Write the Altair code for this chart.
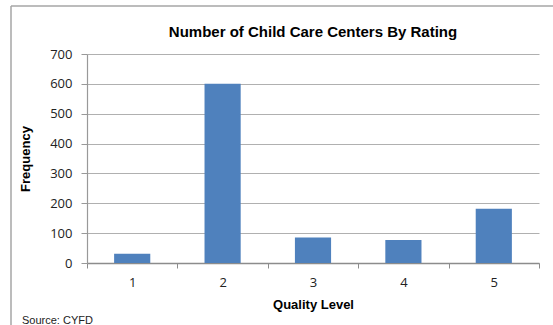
import altair as alt
import pandas as pd

# Ratings and the number of centers at each level
levels = ["1", "2", "3", "4", "5"]
counts = [31, 600, 85, 77, 182]
source_note = "Source: CYFD"

df = pd.DataFrame({"level": levels, "count": counts})

tick_font = "Open Sans"
title_font = "Liberation Sans"

bars = alt.Chart(df).mark_bar(
    color="#4f81bd", width=alt.RelativeBandSize(0.4)
).encode(
    x=alt.X(
        "level:N",
        sort=levels,
        scale=alt.Scale(paddingInner=0, paddingOuter=0),
        axis=alt.Axis(
            title="Quality Level",
            labelAngle=0,
            tickBand="extent",
            grid=False,
            domainColor="#8c8c8c",
            domainWidth=1.5,
            tickColor="#8c8c8c",
            tickSize=5,
            labelPadding=8,
            labelFont=tick_font,
            labelFontSize=13,
            labelColor="#222222",
            titleFont=title_font,
            titleFontSize=13,
            titleFontWeight="bold",
            titleColor="#000000",
            titlePadding=9,
        ),
    ),
    y=alt.Y(
        "count:Q",
        scale=alt.Scale(domain=[0, 700]),
        axis=alt.Axis(
            title="Frequency",
            values=[0, 100, 200, 300, 400, 500, 600, 700],
            grid=True,
            gridColor="#b0b0b0",
            gridWidth=1,
            domainColor="#999999",
            domainWidth=1.2,
            tickColor="#999999",
            tickSize=6,
            labelPadding=9,
            labelFont=tick_font,
            labelFontSize=13,
            labelColor="#222222",
            titleFont=title_font,
            titleFontSize=13,
            titleFontWeight="bold",
            titleColor="#000000",
            titlePadding=17,
        ),
    ),
)

note = alt.Chart(pd.DataFrame({"t": [source_note]})).mark_text(
    align="left", baseline="alphabetic", font=title_font, fontSize=11, color="#222222"
).encode(text="t:N", x=alt.value(-65), y=alt.value(270))

# Outer frame: only the top and left edges fall inside the canvas
frame_top = alt.Chart(pd.DataFrame({"t": [0]})).mark_rule(color="#a6a6a6", strokeWidth=1.5).encode(
    x=alt.value(-76), x2=alt.value(480), y=alt.value(-48)
)
frame_left = alt.Chart(pd.DataFrame({"t": [0]})).mark_rule(color="#a6a6a6", strokeWidth=1.5).encode(
    x=alt.value(-76), y=alt.value(-48), y2=alt.value(300)
)

chart = alt.layer(bars, note, frame_top, frame_left).properties(
    width=452,
    height=209,
    title=alt.TitleParams(
        "Number of Child Care Centers By Rating",
        font=title_font,
        fontSize=15,
        fontWeight="bold",
        color="#000000",
        anchor="middle",
        baseline="alphabetic",
        offset=0,
        dy=47,
    ),
    autosize=alt.AutoSizeParams(type="none"),
    padding={"left": 87, "top": 54, "right": 14, "bottom": 62},
    background="#ffffff",
).configure_view(stroke=None)

chart.save("out.html", embed_options={"renderer": "svg", "actions": False})
